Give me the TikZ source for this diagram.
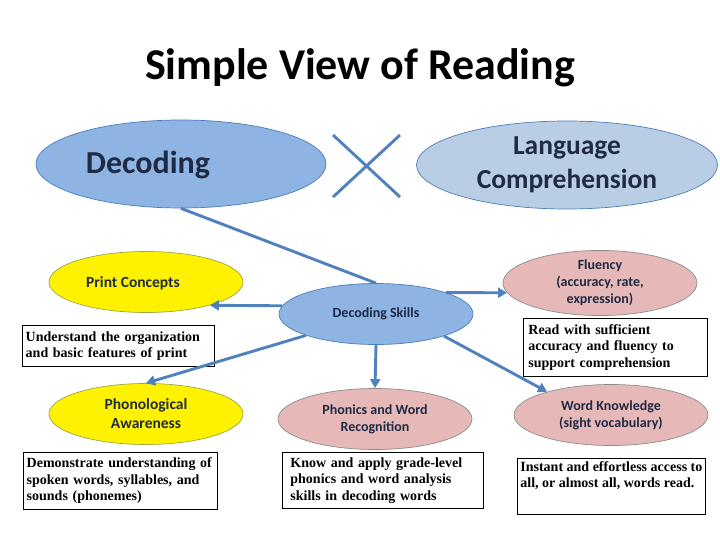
\documentclass[tikz,border=0pt]{standalone}
\usepackage{fontspec}
\setmainfont{Carlito}
\newfontfamily\serifbox{Liberation Serif}
\usetikzlibrary{shapes.geometric, arrows.meta}

\definecolor{decblue}{HTML}{8DB4E2}
\definecolor{langblue}{HTML}{B9CDE5}
\definecolor{edgeblue}{HTML}{4A7EBB}
\definecolor{linkblue}{HTML}{4F81BD}
\definecolor{skillpink}{HTML}{E6B9B8}
\definecolor{pinkedge}{HTML}{8C8C8C}
\definecolor{yellowedge}{HTML}{9BA64A}
\definecolor{navytext}{HTML}{1F2A44}

\tikzset{
  oval/.style={ellipse, inner sep=0pt, line width=0.7pt, align=center, text=navytext,
    font=\bfseries\fontsize{14}{17}\selectfont},
  bigoval/.style={oval, minimum width=290pt, minimum height=88pt, draw=edgeblue},
  skilloval/.style={oval, minimum width=194pt, minimum height=61pt},
  notebox/.style={draw, line width=0.8pt, anchor=north west, align=left, inner ysep=2pt,
    font=\serifbox\bfseries\fontsize{14}{16.5}\selectfont},
  link/.style={linkblue, line width=2.9pt, -{Triangle[length=9pt,width=10pt]}},
}

\begin{document}
\begin{tikzpicture}[x=1pt, y=-1pt]
  \useasboundingbox (0,0) rectangle (720,540);

  % Title
  \node[font=\bfseries\fontsize{44}{52}\selectfont] (title) at (360,68) {Simple View of Reading};

  % The two components and the times sign
  \node[bigoval, fill=decblue] (dec) at (181,164) {};
  \node[font=\bfseries\fontsize{32}{38}\selectfont, text=navytext] (dectext) at (148,165) {Decoding};
  \node[bigoval, fill=langblue, minimum width=301pt, font=\bfseries\fontsize{27.5}{34}\selectfont]
    (lang) at (567,165) {Language\\Comprehension};
  \draw[linkblue, line width=2.9pt] (333,135) -- (400,197) (333,197) -- (400,135);

  % Skill ovals
  \node[skilloval, fill=yellow, draw=yellowedge] (print) at (146,282) {};
  \node[font=\bfseries\fontsize{15.5}{19}\selectfont, text=navytext] (printtext) at (133,283) {Print Concepts};
  \node[skilloval, fill=decblue, draw=edgeblue] (dskill) at (376,314) {Decoding Skills};
  \node[skilloval, fill=skillpink, draw=pinkedge, minimum height=62pt] (flu) at (600,283)
    {Fluency\\(accuracy, rate,\\expression)};
  \node[skilloval, fill=yellow, draw=yellowedge, font=\bfseries\fontsize{15.5}{19}\selectfont]
    (phono) at (146,414) {Phonological\\Awareness};
  \node[skilloval, fill=skillpink, draw=pinkedge] (phon) at (375,419) {Phonics and Word\\Recognition};
  \node[skilloval, fill=skillpink, draw=pinkedge] (word) at (611,415) {Word Knowledge\\(sight vocabulary)};

  % Description boxes
  \node[notebox, text width=185pt, minimum height=41pt] (printnote) at (22,325)
    {Understand the organization\\and basic features of print};
  \node[notebox, inner xsep=5pt, text width=174pt, minimum height=58pt] (flunote) at (523,318)
    {Read with sufficient\\accuracy and fluency to\\support comprehension};
  \node[notebox, text width=187pt, minimum height=57pt] (phononote) at (23,452)
    {Demonstrate understanding of\\spoken words, syllables, and\\sounds (phonemes)};
  \node[notebox, inner xsep=8pt, text width=185pt, minimum height=56pt] (phonnote) at (282,452)
    {Know and apply grade-level\\phonics and word analysis\\skills in decoding words};
  \node[notebox, inner xsep=3pt, inner ysep=3pt] (wordnote) at (517,458)
    {\parbox[t][50pt][t]{182pt}{Instant and effortless access to\\all, or almost all, words read.}};

  % Connectors
  \draw[linkblue, line width=2.9pt] (dec.south) -- (dskill.north);
  \foreach \src/\dst in {175/print.-20, 197/phono.north, -90/phon.north, 17/flu.186, 342/word.160}
    \draw[link] (dskill.\src) -- (\dst);
\end{tikzpicture}
\end{document}
